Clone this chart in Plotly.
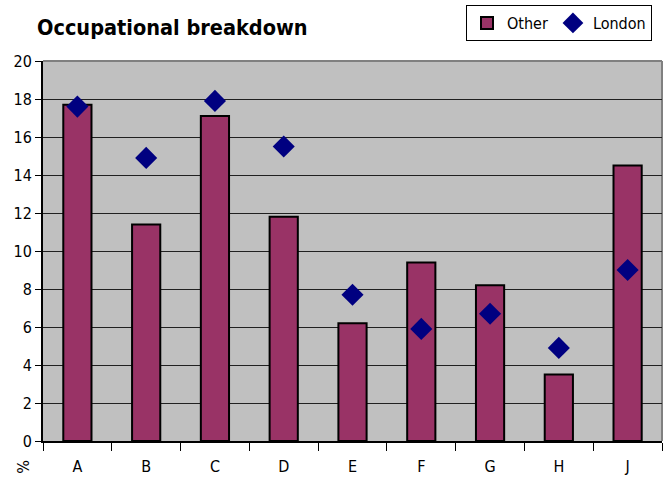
import plotly.graph_objects as go

categories = ["A", "B", "C", "D", "E", "F", "G", "H", "J"]
other = [17.7, 11.4, 17.1, 11.8, 6.2, 9.4, 8.2, 3.5, 14.5]
london = [17.6, 14.9, 17.9, 15.5, 7.7, 5.9, 6.7, 4.9, 9.0]
y_ticks = list(range(0, 21, 2))

FONT = "DejaVu Sans Condensed, DejaVu Sans"

fig = go.Figure()
fig.add_trace(go.Bar(
    x=categories, y=other, name="Other",
    marker=dict(color="#993366", line=dict(color="#000000", width=2)),
    width=0.41,
))
fig.add_trace(go.Scatter(
    x=categories, y=london, name="London", mode="markers",
    marker=dict(symbol="diamond", size=17, color="#000080"),
))

fig.update_layout(
    width=665, height=480,
    margin=dict(l=43, r=3, t=61, b=39, autoexpand=False),
    paper_bgcolor="white",
    plot_bgcolor="#C0C0C0",
    font=dict(family=FONT, size=16, color="black"),
    title=dict(text="<b>Occupational breakdown</b>", x=37/665, xanchor="left",
               xref="container", yref="container",
               y=1-27/480, yanchor="middle", font=dict(family=FONT, size=21.5)),
    showlegend=True,
    legend=dict(orientation="h", x=652/665, xanchor="right", y=1-5/480, yanchor="top",
                xref="container", yref="container",
                bgcolor="white", bordercolor="black", borderwidth=1,
                font=dict(family=FONT, size=16), itemwidth=30,
                tracegroupgap=0),
    xaxis=dict(range=[-0.5, len(categories) - 0.5], showgrid=False, ticks="outside",
               tickson="boundaries", ticklen=8,
               tickcolor="#000000", showline=True, linecolor="#000000", linewidth=2,
               mirror=False, tickfont=dict(size=16), automargin=False,
               ticklabelstandoff=10),
    yaxis=dict(range=[0, 20], tickvals=y_ticks, showgrid=True, gridcolor="#202020",
               gridwidth=1, ticks="outside", ticklen=6, tickcolor="#000000",
               showline=True, linecolor="#000000", linewidth=2, zeroline=False,
               tickfont=dict(size=16), automargin=False),
    bargap=0.59,
)
fig.add_shape(type="line", xref="paper", yref="paper", x0=0, x1=1, y0=1, y1=1,
              line=dict(color="#808080", width=2), layer="below")
fig.add_shape(type="line", xref="paper", yref="paper", x0=1, x1=1, y0=0, y1=1,
              line=dict(color="#808080", width=2), layer="below")
fig.add_annotation(text="%", xref="paper", yref="paper", x=-20/619, y=-26/380,
                   xanchor="center", yanchor="middle",
                   showarrow=False, textangle=90, font=dict(family=FONT, size=16))

fig.write_html("out.html", config={"displayModeBar": False},
               post_script="document.body.style.margin='0';")
